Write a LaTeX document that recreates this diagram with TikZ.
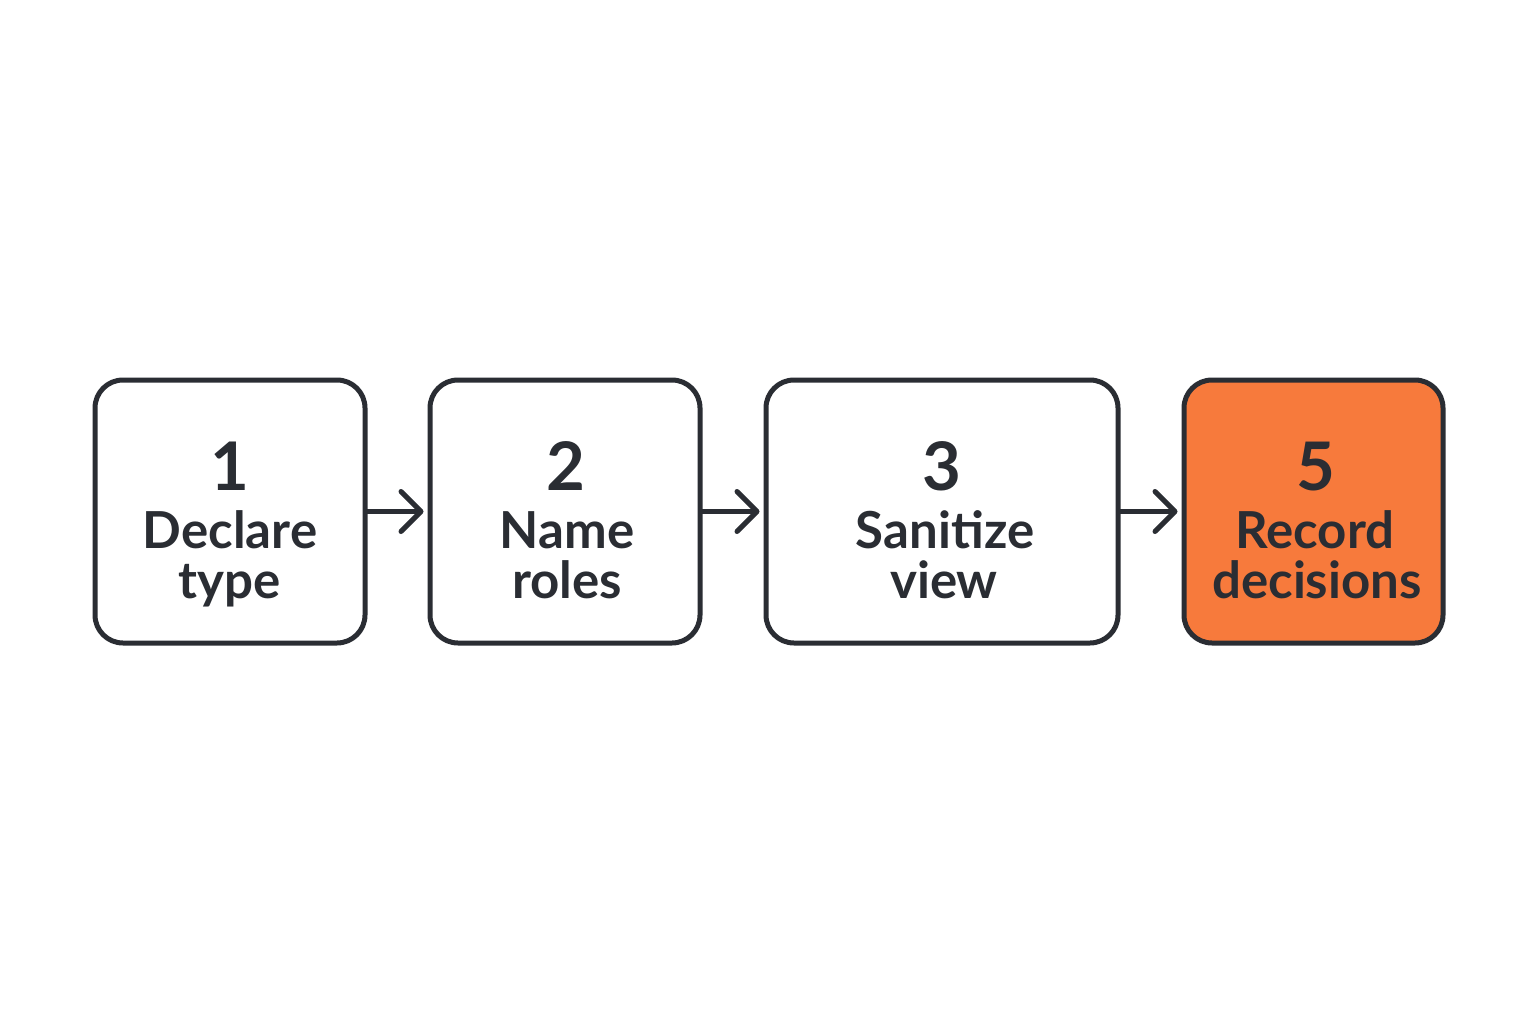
\documentclass[tikz,border=0pt]{standalone}
\usepackage{fontspec}
\setmainfont{Lato}
\usetikzlibrary{arrows.meta}
\definecolor{ink}{HTML}{2A2D33}
\definecolor{hot}{HTML}{F77A3C}
\tikzset{
  x=1pt,y=-1pt,
  stepbox/.style={draw=ink,line width=5pt,rounded corners=28pt,fill=white,minimum height=263pt,inner sep=0pt},
  numtxt/.style={anchor=base,text=ink,font=\fontsize{67}{67}\selectfont\bfseries,inner sep=0pt},
  lbltxt/.style={anchor=base,text=ink,font=\fontsize{51}{51}\selectfont\bfseries,inner sep=0pt},
  flow/.style={draw=ink,line width=5pt,line cap=round,-{Straight Barb[length=20pt,width=40pt,line width=5pt,round]},shorten >=4pt}
}
\begin{document}
\begin{tikzpicture}
\useasboundingbox[fill=white] (0,0) rectangle (1536,1024);
\node[stepbox,minimum width=270pt] (b1) at (230,511.5) {};
\node[stepbox,minimum width=270pt] (b2) at (565,511.5) {};
\node[stepbox,minimum width=352pt] (b3) at (942,511.5) {};
\node[stepbox,minimum width=259pt,fill=hot] (b4) at (1313.5,511.5) {};
\draw[flow] (b1.east) -- (b2.west);
\draw[flow] (b2.east) -- (b3.west);
\draw[flow] (b3.east) -- (b4.west);
\node[numtxt] (n1) at (230,490) {1};
\node[lbltxt] (l1a) at (230,548) {Declare};
\node[lbltxt] (l1b) at (230,598) {type};
\node[numtxt] (n2) at (566,490) {2};
\node[lbltxt] (l2a) at (567,548) {Name};
\node[lbltxt] (l2b) at (567,598) {roles};
\node[numtxt] (n3) at (942,490) {3};
\node[lbltxt] (l3a) at (945,548) {Sanitize};
\node[lbltxt] (l3b) at (944,598) {view};
\node[numtxt] (n4) at (1316,490) {5};
\node[lbltxt] (l4a) at (1315,548) {Record};
\node[lbltxt] (l4b) at (1317,598) {decisions};
\end{tikzpicture}
\end{document}
